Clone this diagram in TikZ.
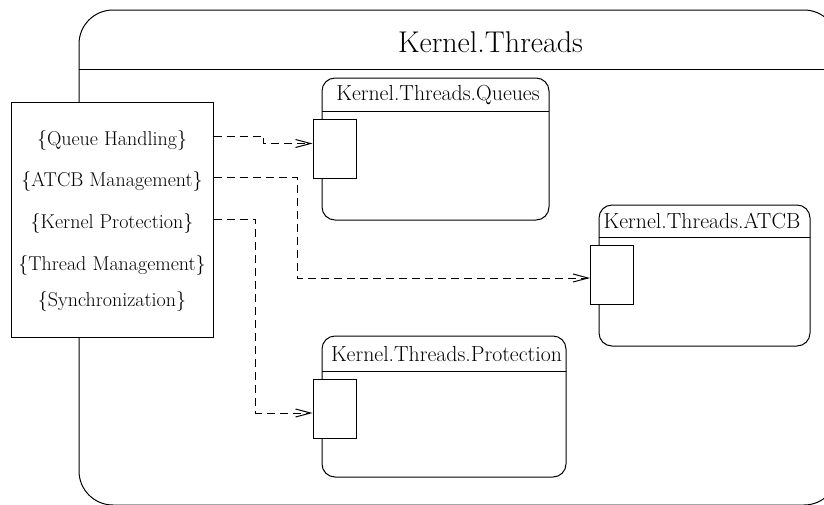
\documentclass[tikz,border=0pt]{standalone}
\usetikzlibrary{arrows.meta}

\begin{document}
\begin{tikzpicture}[x=1pt,y=-1pt,line width=1pt]
\tikzstyle{every node}+=[inner sep=0pt]
\tikzstyle{pkgtitle}=[font=\fontsize{21.8}{24}\selectfont]
\tikzstyle{lbl}=[anchor=base,font=\fontsize{20}{22}\selectfont]
\tikzstyle{port}=[draw,fill=white,minimum width=43pt,minimum height=59pt]
\tikzstyle{dep}=[dash pattern=on 8pt off 5pt,-{Straight Barb[length=15pt,width=8pt]}]
\useasboundingbox (0,0) rectangle (824,504);
\clip (0,0) rectangle (824,504);
\draw [black,rounded corners=34pt] (79,10) rectangle (838,505);
\draw [black] (79,69) -- (838,69);
\draw (490.5,42) node [font=\fontsize{30}{32}\selectfont] (threads) {Kernel.Threads};
\draw [black,fill=white] (11,102) rectangle (213,337);
\node (roles) at (112,219.5) [minimum width=202pt,minimum height=235pt] {};
\draw (112,145) node [lbl] (qh) {\{Queue Handling\}};
\draw (112,186.7) node [lbl] (am) {\{ATCB Management\}};
\draw (112,228.3) node [lbl] (kp) {\{Kernel Protection\}};
\draw (112,270) node [lbl] (tm) {\{Thread Management\}};
\draw (112,306.7) node [lbl] (sy) {\{Synchronization\}};
\draw [black,rounded corners=13pt] (322,78) rectangle (549,220);
\draw [black] (322,111) -- (549,111);
\draw (438,95.5) node [pkgtitle] (queues) {Kernel.Threads.Queues};
\node [port] (qport) at (334.5,148.5) {};
\draw [black,rounded corners=13pt] (599,205) rectangle (810,346);
\draw [black] (599,237) -- (810,237);
\draw (702,221) node [pkgtitle] (atcb) {Kernel.Threads.ATCB};
\node [port] (aport) at (612,274.5) {};
\draw [black,rounded corners=13pt] (322,336) rectangle (566,477);
\draw [black] (322,371) -- (566,371);
\draw (446.5,354.5) node [pkgtitle] (protection) {Kernel.Threads.Protection};
\node [port] (pport) at (334.5,408.5) {};
\draw [dep] ([yshift=4pt]qh.center -| roles.east) -- ++(50,0) |- ([yshift=5pt]qport.west);
\draw [dep] ([yshift=4pt]am.center -| roles.east) -- ++(84,0) |- ([yshift=-3.5pt]aport.west);
\draw [dep] ([yshift=4pt]kp.center -| roles.east) -- ++(42,0) |- ([yshift=-4.5pt]pport.west);
\end{tikzpicture}
\end{document}
